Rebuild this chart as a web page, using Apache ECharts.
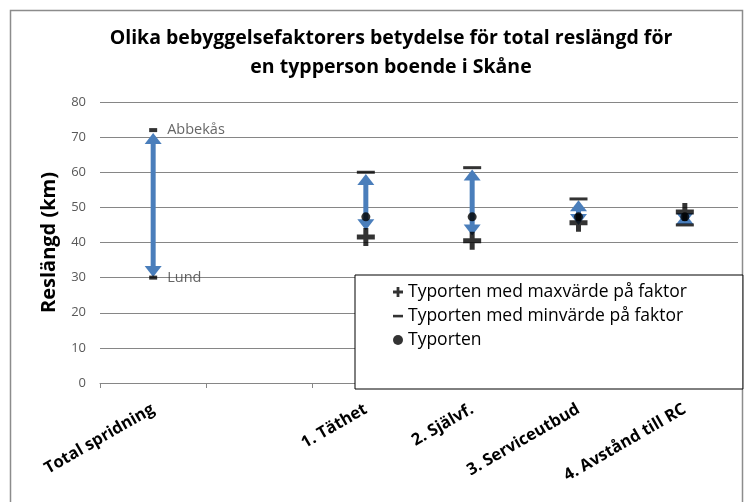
<!DOCTYPE html>
<html>
<head>
<meta charset="utf-8">
<script src="https://cdn.jsdelivr.net/npm/echarts@6/dist/echarts.min.js"></script>
<style>
  html, body { margin: 0; padding: 0; background: #fff; }
  #chart { width: 747px; height: 502px; }
</style>
</head>
<body>
<div id="chart"></div>
<script>
// Data
const categories = ['Total spridning', '', '1. Täthet', '2. Självf.', '3. Serviceutbud', '4. Avstånd till RC'];

// spridning over hela Skåne (ytterlägen)
const spridningNames = ['Abbekås', 'Lund'];
const spridningValues = [72, 30];

// Typorten med maxvärde på faktor (plustecken)
const maxValues = [null, null, 41.6, 40.5, 45.6, 48.7];
// Typorten med minvärde på faktor (streck)
const minValues = [null, null, 60, 61.3, 52.4, 45];
// Typorten
const typortValues = [null, null, 47.3, 47.3, 47.3, 47.3];

// pilar (nedre / övre ände)
const arrowLow = [30.2, null, 43.5, 42, 45, 45.3];
const arrowHigh = [71.2, null, 59.5, 60.8, 52, 48.4];

const yTicks = [0, 10, 20, 30, 40, 50, 60, 70, 80];

var chartDom = document.getElementById('chart');
var myChart = echarts.init(chartDom, null, { renderer: 'canvas' });
var option;

const plusPath = 'path://M6.5,0h5v6.5h6.5v5h-6.5v6.5h-5v-6.5h-6.5v-5h6.5z';
const dashIcon = 'path://M0,0L0,0M10,10L10,10M0,3.8h10v2.6h-10z';
const arrowColor = '#4a7ebb';
const font = 'Open Sans';

const arrowData = [];
categories.forEach((c, i) => {
  if (arrowLow[i] != null) arrowData.push([i, arrowLow[i], arrowHigh[i]]);
});

option = {
  animation: false,
  backgroundColor: '#fff',
  title: {
    text: 'Olika bebyggelsefaktorers betydelse för total reslängd för\nen typperson boende i Skåne',
    left: 386,
    top: 19,
    textAlign: 'center',
    textStyle: {
      fontFamily: font,
      fontSize: 19.5,
      fontWeight: 'bold',
      lineHeight: 29,
      color: '#000',
    },
  },
  graphic: [
    {
      type: 'rect',
      shape: { x: 10.5, y: 10.5, width: 732, height: 520 },
      style: { fill: null, stroke: '#8c8c8c', lineWidth: 1.5 },
      silent: true,
    },
  ],
  legend: {
    orient: 'vertical',
    left: 355,
    top: 275,
    backgroundColor: '#fff',
    borderColor: '#000',
    borderWidth: 1,
    borderRadius: 0,
    padding: [8, 56, 40, 38],
    itemWidth: 10,
    itemHeight: 10,
    itemGap: 6,
    textStyle: {
      fontFamily: font,
      fontSize: 17.5,
      lineHeight: 18,
      color: '#000',
    },
    data: [
      { name: 'Typorten med maxvärde på faktor', icon: plusPath },
      { name: 'Typorten med minvärde på faktor', icon: dashIcon },
      { name: 'Typorten', icon: 'circle' },
    ],
  },
  grid: {
    left: 100,
    right: 9,
    top: 102,
    bottom: 119,
  },
  xAxis: [
    {
      type: 'category',
      data: categories,
      boundaryGap: true,
      axisLine: { lineStyle: { color: '#868686', width: 1 } },
      axisTick: { show: true, length: 5, lineStyle: { color: '#868686' } },
      axisLabel: {
        interval: 0,
        rotate: 30,
        margin: 25,
        fontFamily: font,
        fontSize: 16.5,
        fontWeight: 'bold',
        color: '#000',
      },
    },
  ],
  yAxis: [
    {
      type: 'value',
      min: yTicks[0],
      max: yTicks[yTicks.length - 1],
      interval: 10,
      name: 'Reslängd (km)',
      nameLocation: 'middle',
      nameGap: 41,
      nameTextStyle: {
        fontFamily: font,
        fontSize: 20,
        fontWeight: 'bold',
        color: '#000',
      },
      axisLine: { show: false },
      axisTick: { show: false },
      axisLabel: {
        margin: 14,
        fontFamily: font,
        fontSize: 13,
        color: '#595959',
      },
      splitLine: { lineStyle: { color: '#868686', width: 1 } },
    },
  ],
  series: [
    {
      name: 'pilar',
      type: 'custom',
      z: 1,
      data: arrowData,
      renderItem: function (params, api) {
        const x = api.value(0);
        const pLow = api.coord([x, api.value(1)]);
        const pHigh = api.coord([x, api.value(2)]);
        const cx = pLow[0];
        const yTop = Math.min(pLow[1], pHigh[1]);
        const yBot = Math.max(pLow[1], pHigh[1]);
        const hw = 8.5, hl = 11, sw = 2.5;
        const children = [];
        if (yBot - yTop > 2 * hl) {
          children.push({
            type: 'rect',
            shape: { x: cx - sw, y: yTop + hl - 1, width: sw * 2, height: yBot - yTop - 2 * hl + 2 },
            style: { fill: arrowColor },
          });
        }
        children.push({
          type: 'polygon',
          shape: { points: [[cx, yTop], [cx + hw, yTop + hl], [cx - hw, yTop + hl]] },
          style: { fill: arrowColor },
        });
        children.push({
          type: 'polygon',
          shape: { points: [[cx, yBot], [cx + hw, yBot - hl], [cx - hw, yBot - hl]] },
          style: { fill: arrowColor },
        });
        return { type: 'group', children: children };
      },
    },
    {
      name: 'spridning',
      type: 'scatter',
      z: 3,
      symbol: 'rect',
      symbolSize: [8, 4],
      itemStyle: { color: '#000' },
      label: {
        show: true,
        position: 'right',
        distance: 10,
        fontFamily: font,
        fontSize: 14.5,
        color: '#404040',
        formatter: (p) => spridningNames[p.dataIndex],
      },
      data: spridningValues.map((v) => [0, v]),
    },
    {
      name: 'Typorten',
      type: 'scatter',
      z: 3,
      symbol: 'circle',
      symbolSize: 9,
      itemStyle: { color: '#000' },
      data: typortValues,
    },
    {
      name: 'Typorten med minvärde på faktor',
      type: 'scatter',
      z: 4,
      symbol: 'rect',
      symbolSize: [18, 3],
      itemStyle: { color: '#000' },
      data: minValues,
    },
    {
      name: 'Typorten med maxvärde på faktor',
      type: 'scatter',
      z: 4,
      symbol: plusPath,
      symbolSize: 18,
      itemStyle: { color: '#000' },
      data: maxValues,
    },
  ],
};

option && myChart.setOption(option);
</script>
</body>
</html>
